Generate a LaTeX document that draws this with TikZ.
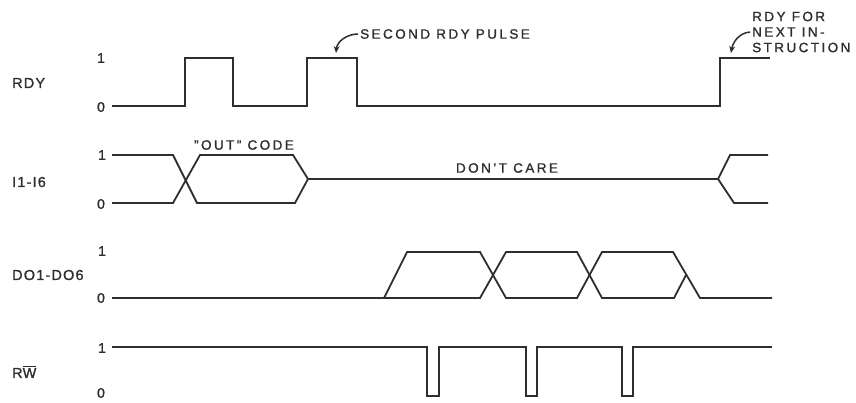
\documentclass[tikz,border=0pt]{standalone}
\usepackage{fontspec}
\setmainfont{Liberation Sans}[LetterSpace=18, FakeBold=1.2]
\definecolor{ink}{HTML}{2E2E2E}
\usetikzlibrary{arrows.meta}

\begin{document}
\begin{tikzpicture}[
  x=1pt, y=-1pt,
  sig/.style={anchor=west, font=\fontsize{14.5}{16}\selectfont\addfontfeatures{LetterSpace=8}, text=ink, inner sep=0pt},
  lvl/.style={font=\fontsize{14}{16}\selectfont, text=ink, inner sep=0pt},
  note/.style={anchor=west, font=\fontsize{13.5}{15.5}\selectfont, text=ink, inner sep=2pt, align=left},
  wave/.style={draw=ink, line width=1.8pt, line join=miter},
  callout/.style={draw=ink, line width=1.5pt, -{Stealth[length=7pt, width=6pt]}},
]
\useasboundingbox (0,0) rectangle (856,402);

% signal names
\node[sig] (rdy)  at (12,83)  {RDY};
\node[sig] (iin)  at (12,182) {I1-I6};
\node[sig] (dout) at (12,275) {DO1-DO6};
\node[sig] (rw)   at (12,372) {R$\overline{\hbox{W}}$};

% levels
\node[lvl] (rdyhi) at (101,58)  {1};
\node[lvl] (rdylo) at (101,107) {0};
\node[lvl] (iinhi) at (102,155) {1};
\node[lvl] (iinlo) at (101,204) {0};
\node[lvl] (douthi) at (102,251) {1};
\node[lvl] (doutlo) at (101,298) {0};
\node[lvl] (rwhi) at (102,348) {1};
\node[lvl] (rwlo) at (101,393) {0};

% RDY
\draw[wave] (112,106) -- (185,106) -- (185,58) -- (233,58) -- (233,106)
  -- (307,106) -- (307,58) -- (357,58) -- (357,106)
  -- (720,106) -- (720,58) -- (770,58);

% I1-I6
\draw[wave] (112,155) -- (173,155) -- (197,203) -- (295,203) -- (308,179)
  -- (718,179) -- (730,155) -- (768,155);
\draw[wave] (112,203) -- (173,203) -- (200,155) -- (293,155) -- (308,179);
\draw[wave] (718,179) -- (734,203) -- (768,203);

% DO1-DO6
\draw[wave] (112,298) -- (480,298) -- (506,252) -- (577,252) -- (602,298)
  -- (674,298) -- (686,275);
\draw[wave] (384,298) -- (407,252) -- (480,252) -- (506,298) -- (577,298)
  -- (602,252) -- (673,252) -- (700,298) -- (772,298);

% R/W
\draw[wave] (112,347) -- (427,347) -- (427,396) -- (439,396) -- (439,347)
  -- (526,347) -- (526,396) -- (537,396) -- (537,347)
  -- (622,347) -- (622,396) -- (633,396) -- (633,347) -- (772,347);

% notes
\node[note] (second) at (358,34) {SECOND RDY PULSE};
\node[note] (nextrdy) at (750,32) {RDY FOR\\NEXT IN-\\STRUCTION};
\node[lvl, font=\fontsize{13.5}{15}\selectfont] (outcode) at (244,145) {"OUT" CODE};
\node[lvl, font=\fontsize{13.5}{15}\selectfont] (dontcare) at (507,168) {DON'T CARE};

\coordinate (p2top) at (336,53);
\coordinate (nexttop) at (731,53);
\draw[callout] (second.west) to[out=180, in=85] (p2top);
\draw[callout] (nextrdy.west) to[out=185, in=80] (nexttop);
\end{tikzpicture}
\end{document}
